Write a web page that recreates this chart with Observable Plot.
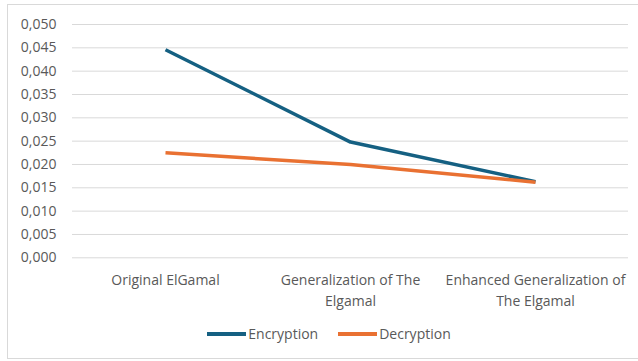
<!DOCTYPE html>
<html><head><meta charset="utf-8">
<script src="https://cdn.jsdelivr.net/npm/d3@7"></script>
<script src="https://cdn.jsdelivr.net/npm/@observablehq/plot@0.6"></script>
<style>
body{margin:0;background:#fff;font-family:"Open Sans",sans-serif;}
#frame{position:absolute;left:7px;top:4px;width:640px;height:355px;border:1px solid #d9d9d9;box-sizing:border-box;}
#chart{position:absolute;left:0;top:0;}
#legend{position:absolute;left:0;top:324px;width:638px;display:flex;justify-content:center;gap:20px;font-size:14px;color:#595959;padding-left:20px;box-sizing:border-box;}
.item{display:flex;align-items:center;}
.sw{width:39px;height:4px;margin-right:2px;}
</style></head><body>
<div id="frame"></div>
<div id="chart"></div>
<div id="legend"></div>
<script>
const categories = ["Original ElGamal", "Generalization of The Elgamal", "Enhanced Generalization of The Elgamal"];
const tickLabels = ["Original ElGamal", "Generalization of The\nElgamal", "Enhanced Generalization of\nThe Elgamal"];
const encryption = [0.0446, 0.0248, 0.0163];
const decryption = [0.0225, 0.0200, 0.0162];
const yTicks = [0, 0.005, 0.010, 0.015, 0.020, 0.025, 0.030, 0.035, 0.040, 0.045, 0.050];
const seriesNames = ["Encryption", "Decryption"];
const colors = ["#156082", "#E97132"];

const data = [];
categories.forEach((c, i) => {
  data.push({cat: c, value: encryption[i], series: seriesNames[0]});
  data.push({cat: c, value: decryption[i], series: seriesNames[1]});
});

const fmtY = d => d.toFixed(3).replace(".", ",");
const fmtX = d => tickLabels[categories.indexOf(d)];

const chart = Plot.plot({
  width: 638, height: 318,
  marginLeft: 72, marginRight: 10, marginTop: 24, marginBottom: 60.7,
  style: {fontFamily: "Open Sans, sans-serif", fontSize: "14px", color: "#595959", background: "transparent", overflow: "visible"},
  x: {type: "point", domain: categories, padding: 0.5, label: null},
  y: {domain: [0, 0.05], label: null},
  color: {domain: seriesNames, range: colors},
  marks: [
    Plot.gridY(yTicks, {stroke: "#d9d9d9", strokeOpacity: 1, strokeWidth: 1}),
    Plot.axisY(yTicks, {tickSize: 0, tickPadding: 16, fontSize: 14, fill: "#595959", tickFormat: fmtY, label: null}),
    Plot.axisX(categories, {tickSize: 0, tickPadding: 13, fontSize: 14, fill: "#595959", lineHeight: 1.45, tickFormat: fmtX, label: null}),
    Plot.line(data, {x: "cat", y: "value", z: "series", stroke: "series", strokeWidth: 3.5, strokeLinecap: "butt"})
  ]
});
document.getElementById("chart").appendChild(chart);

const legend = document.getElementById("legend");
seriesNames.forEach((s, i) => {
  const it = document.createElement("div"); it.className = "item";
  const sw = document.createElement("div"); sw.className = "sw"; sw.style.background = colors[i];
  const t = document.createElement("span"); t.textContent = s;
  it.appendChild(sw); it.appendChild(t); legend.appendChild(it);
});
</script>
</body></html>
